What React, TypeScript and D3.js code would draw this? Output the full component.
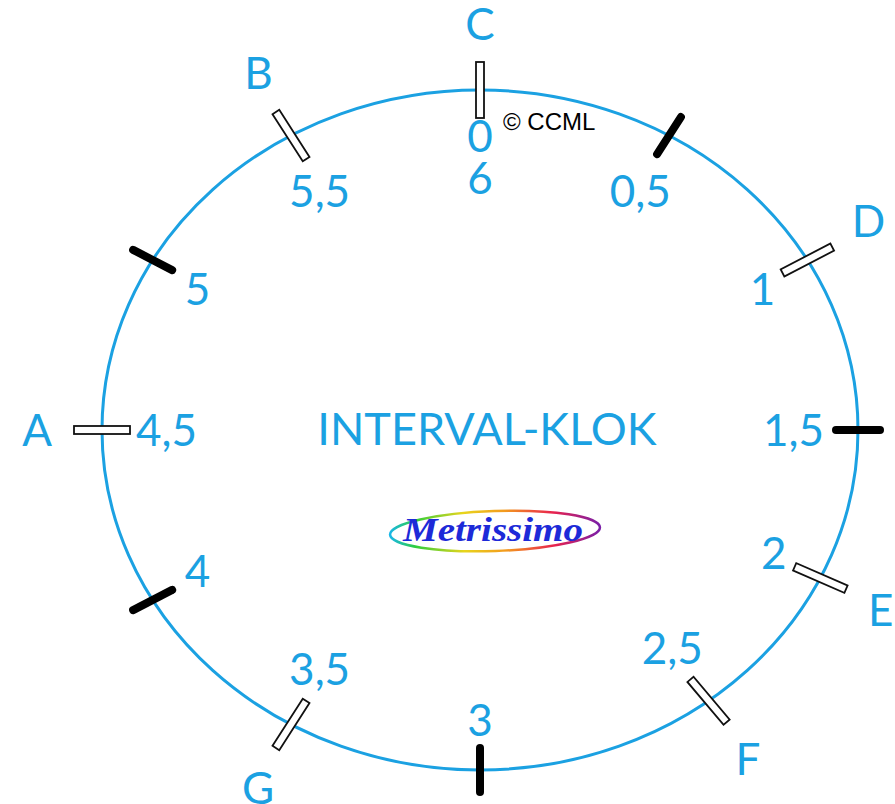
import * as d3 from "d3";
import { useEffect, useRef } from "react";

// marks around the clock, in clock units (0..6)
const clockPositions = [0, 0.5, 1, 1.5, 1.93, 2.38, 3, 3.5, 4, 4.5, 5, 5.5];
const intervalLabels = [["0", "6"], ["0,5"], ["1"], ["1,5"], ["2"], ["2,5"], ["3"], ["3,5"], ["4"], ["4,5"], ["5"], ["5,5"]];
// note name for white marks, empty for black marks
const noteNames = ["C", "", "D", "", "E", "F", "", "G", "", "A", "", "B"];
const title = "INTERVAL-KLOK";
const logoText = "Metrissimo";
const copyright = "© CCML";

const W = 895;
const H = 804;
const BLUE = "#1ba1e2";
const FONT = "Lato, 'Open Sans', sans-serif";

const App = () => {
  const svgRef = useRef<SVGSVGElement>(null);

  useEffect(() => {
    if (!svgRef.current) return;
    const svg = d3.select(svgRef.current);
    svg.selectAll("*").remove();

    const cx = 480, cy = 430, rx = 378, ry = 340;
    const fs = 44;
    const capH = fs * 0.72;

    const angle = d3.scaleLinear().domain([0, 6]).range([0, 2 * Math.PI]);

    const geo = (v: number) => {
      const a = angle(v);
      const s = Math.sin(a), c = Math.cos(a);
      const px = cx + rx * s, py = cy - ry * c;
      const rlen = Math.hypot(rx * s, ry * c);
      const nlen = Math.hypot(ry * s, rx * c);
      return {
        px, py,
        rot: (Math.atan2(-ry * c / rlen, rx * s / rlen) * 180) / Math.PI,
        nx: (ry * s) / nlen,
        ny: (-rx * c) / nlen,
      };
    };

    // logo gradient
    const defs = svg.append("defs");
    const grad = defs.append("linearGradient").attr("id", "rainbow").attr("x1", "0%").attr("x2", "100%");
    [["0%", "#19b7e8"], ["12%", "#2fce3c"], ["35%", "#e8d51c"], ["55%", "#f39a1e"], ["78%", "#e8224e"], ["100%", "#7a1fa8"]]
      .forEach(([o, c]) => grad.append("stop").attr("offset", o).attr("stop-color", c));

    // ellipse
    svg.append("ellipse")
      .attr("cx", cx).attr("cy", cy).attr("rx", rx).attr("ry", ry)
      .attr("fill", "none").attr("stroke", BLUE).attr("stroke-width", 3);

    const placeLabel = (
      t: d3.Selection<SVGTextElement, unknown, null, undefined>,
      px: number, py: number, nx: number, ny: number, gap: number
    ) => {
      const w = (t.node() as SVGTextElement).getComputedTextLength();
      const d = gap + Math.abs(nx) * w / 2 + Math.abs(ny) * capH / 2;
      const tx = px + nx * d, ty = py + ny * d;
      t.attr("x", tx).attr("y", ty + capH / 2);
      return { tx, ty };
    };

    clockPositions.forEach((v, i) => {
      const g = geo(v);
      const white = noteNames[i] !== "";
      const mark = svg.append("g").attr("transform", `translate(${g.px},${g.py}) rotate(${g.rot})`);
      if (white) {
        mark.append("rect")
          .attr("x", -28).attr("y", -4).attr("width", 56).attr("height", 8)
          .attr("fill", "#fff").attr("stroke", "#111").attr("stroke-width", 1.8);
      } else {
        mark.append("line")
          .attr("x1", -22).attr("x2", 22).attr("y1", 0).attr("y2", 0)
          .attr("stroke", "#000").attr("stroke-width", 8).attr("stroke-linecap", "round");
      }

      // interval labels inside
      const lines = intervalLabels[i];
      const t = svg.append("text")
        .attr("text-anchor", "middle").attr("fill", BLUE)
        .attr("font-family", FONT).attr("font-size", fs)
        .text(lines[0]);
      const pos = placeLabel(t, g.px, g.py, -g.nx, -g.ny, lines.length > 1 ? 30 : 34);
      lines.slice(1).forEach((l, j) => {
        svg.append("text")
          .attr("x", pos.tx).attr("y", pos.ty + capH / 2 + 42 * (j + 1))
          .attr("text-anchor", "middle").attr("fill", BLUE)
          .attr("font-family", FONT).attr("font-size", fs)
          .text(l);
      });

      // note names outside
      if (white) {
        const n = svg.append("text")
          .attr("text-anchor", "middle").attr("fill", BLUE)
          .attr("font-family", FONT).attr("font-size", fs)
          .text(noteNames[i]);
        placeLabel(n, g.px, g.py, g.nx, g.ny, 50);
      }
    });

    // title
    svg.append("text")
      .attr("x", cx + 7).attr("y", cy + 15)
      .attr("text-anchor", "middle").attr("fill", BLUE)
      .attr("font-family", FONT).attr("font-size", 45)
      .text(title);

    // copyright
    svg.append("text")
      .attr("x", 503).attr("y", 130)
      .attr("fill", "#000")
      .attr("font-family", "'Liberation Sans', Arial, sans-serif").attr("font-size", 24)
      .text(copyright);

    // logo
    const logo = svg.append("g").attr("transform", `translate(${cx + 15},${cy + 101})`);
    logo.append("ellipse")
      .attr("rx", 105).attr("ry", 20)
      .attr("transform", "rotate(-2)")
      .attr("fill", "none").attr("stroke", "url(#rainbow)").attr("stroke-width", 2.5);
    logo.append("text")
      .attr("x", -2).attr("y", 10)
      .attr("text-anchor", "middle")
      .attr("fill", "#1d2ad8")
      .attr("font-family", "'Liberation Serif', 'DejaVu Serif', serif")
      .attr("font-style", "italic").attr("font-weight", "bold")
      .attr("font-size", 34)
      .attr("textLength", 180).attr("lengthAdjust", "spacingAndGlyphs")
      .text(logoText);
  }, []);

  return (
    <svg
      ref={svgRef}
      width={W}
      height={H}
      style={{ position: "absolute", left: 0, top: 0, background: "#fff" }}
    />
  );
};

export default App;
